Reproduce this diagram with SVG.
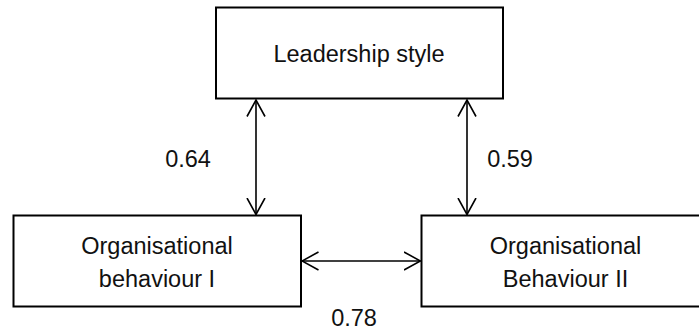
<svg xmlns="http://www.w3.org/2000/svg" width="699" height="332" viewBox="0 0 699 332">
<style>
.box{fill:#fff;stroke:#000;stroke-width:2}
.lbl{font-family:"Liberation Sans",Arial,sans-serif;font-size:23.5px;fill:#111;text-anchor:middle}
.con{stroke:#000;stroke-width:1.6;fill:none;marker-start:url(#ah);marker-end:url(#ah)}
</style>
<defs>
<marker id="ah" markerUnits="userSpaceOnUse" viewBox="0 0 18 20" markerWidth="18" markerHeight="20" refX="17" refY="10" orient="auto-start-reverse">
<path d="M0.5,1 L17,10 L0.5,19" fill="none" stroke="#000" stroke-width="1.6"/>
</marker>
</defs>
<rect width="699" height="332" fill="#fff"/>
<g id="leadership">
<rect class="box" x="216" y="7.5" width="287" height="91"/>
<text class="lbl" x="359" y="62">Leadership style</text>
</g>
<g id="ob1">
<rect class="box" x="13.5" y="215.5" width="287.5" height="91"/>
<text class="lbl" x="157" y="254">Organisational</text>
<text class="lbl" x="157" y="287">behaviour I</text>
</g>
<g id="ob2">
<rect class="box" x="421.5" y="215.5" width="288" height="91"/>
<text class="lbl" x="565.5" y="254">Organisational</text>
<text class="lbl" x="565.5" y="287">Behaviour II</text>
</g>
<g id="connectors">
<line class="con" x1="256" y1="100" x2="256" y2="214.5"/>
<line class="con" x1="467" y1="100" x2="467" y2="214.5"/>
<line class="con" x1="302" y1="261" x2="420.5" y2="261"/>
<text class="lbl" x="188" y="167">0.64</text>
<text class="lbl" x="510" y="167">0.59</text>
<text class="lbl" x="354" y="326">0.78</text>
</g>
</svg>
